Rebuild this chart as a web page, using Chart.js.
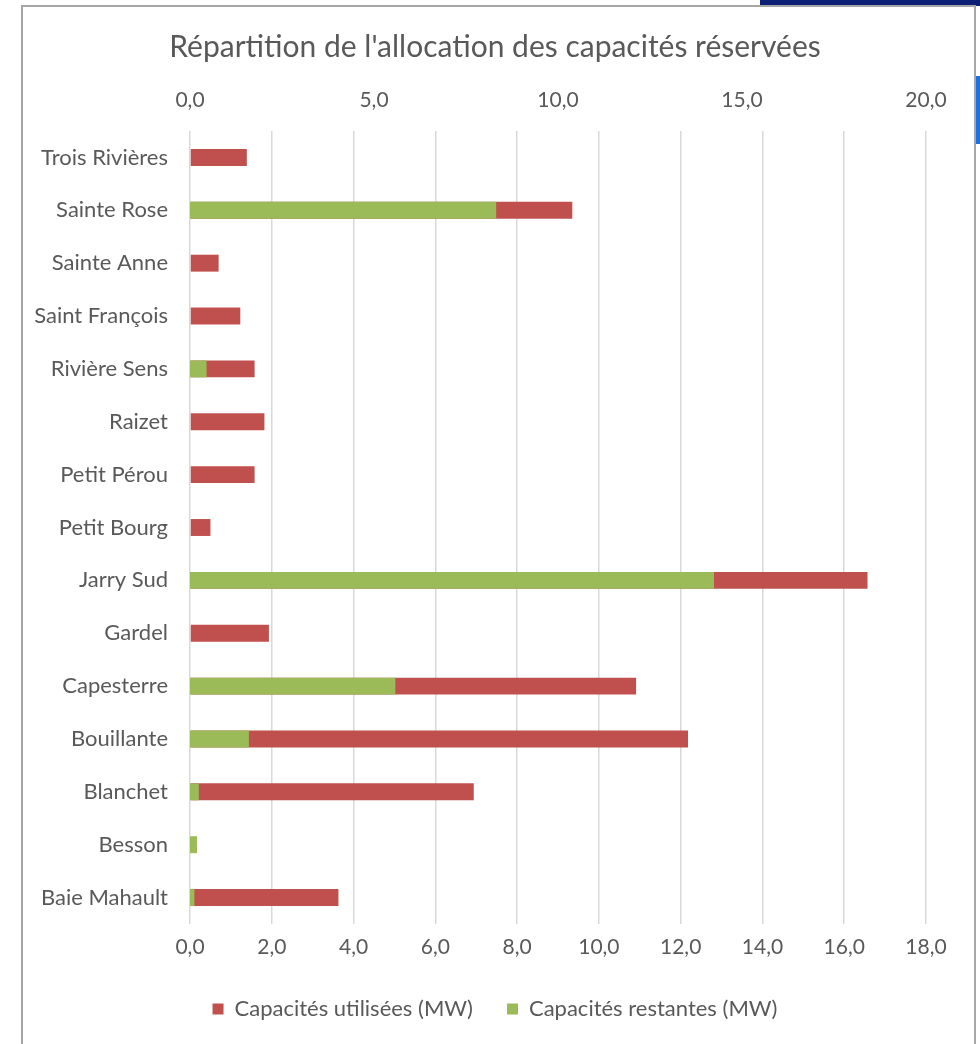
<!DOCTYPE html>
<html>
<head>
<meta charset="utf-8">
<script src="https://cdn.jsdelivr.net/npm/chart.js@4"></script>
<style>
  html, body { margin: 0; padding: 0; background: #fff; }
  body { width: 980px; height: 1044px; position: relative; overflow: hidden; }
  #bgTop { position: absolute; left: 760px; top: 0; width: 220px; height: 6px; background: #0b1f74; }
  #bgBlue { position: absolute; left: 974px; top: 76px; width: 6px; height: 68px; background: #1e6fe0; }
  #frame { position: absolute; left: 21px; top: 5px; width: 951px; height: 1100px; border: 2px solid #a6a6a6; background: #fff; }
  #wrap { position: absolute; left: 0; top: 0; width: 980px; height: 1044px; }
</style>
</head>
<body onload="handleOnLoad()">
<div id="bgTop"></div>
<div id="bgBlue"></div>
<div id="frame"></div>
<div id="wrap"><canvas id="myChart" width="980" height="1044"></canvas></div>
<script>
// postes, in Excel order (bottom to top)
const postes = ['Baie Mahault', 'Besson', 'Blanchet', 'Bouillante', 'Capesterre', 'Gardel',
  'Jarry Sud', 'Petit Bourg', 'Petit Pérou', 'Raizet', 'Rivière Sens', 'Saint François',
  'Sainte Anne', 'Sainte Rose', 'Trois Rivières']

// primary axis (bottom, 0-18)
const utilisees = [3.63, 0, 6.94, 12.18, 10.91, 1.93, 16.57, 0.50, 1.58, 1.82, 1.58, 1.23, 0.70, 9.35, 1.39]
// secondary axis (top, 0-20)
const restantes = [0.12, 0.19, 0.24, 1.60, 5.58, 0, 14.24, 0, 0, 0, 0.45, 0, 0, 8.32, 0]

const bottomTicks = { min: 0, max: 18, step: 2 }
const topTicks = { min: 0, max: 20, step: 5 }

const grey = '#595959'
const fmt = function (v) { return Number(v).toFixed(1).replace('.', ',') }

function handleOnLoad() {
  CreateChart()
}

function CreateChart() {
  const ctx = document.getElementById('myChart').getContext('2d')
  new Chart(ctx, {
    type: 'bar',
    data: {
      labels: postes,
      datasets: [{
        label: 'Capacités utilisées (MW)',
        data: utilisees,
        xAxisID: 'x',
        backgroundColor: '#C0504D',
        borderWidth: 0,
        order: 1
      }, {
        label: 'Capacités restantes (MW)',
        data: restantes,
        xAxisID: 'x2',
        backgroundColor: '#9BBB59',
        borderWidth: 0,
        order: 0
      }]
    },
    options: {
      indexAxis: 'y',
      responsive: false,
      animation: false,
      grouped: false,
      barPercentage: 0.32,
      categoryPercentage: 1,
      layout: {
        padding: { left: 20, right: 10, top: 10, bottom: 14 }
      },
      scales: {
        x: {
          position: 'bottom',
          min: bottomTicks.min,
          max: bottomTicks.max,
          afterFit: function (s) { s.height = 40 },
          ticks: {
            stepSize: bottomTicks.step,
            padding: 11,
            color: grey,
            font: { family: 'Lato', size: 21 },
            callback: fmt,
            maxRotation: 0
          },
          grid: { color: '#d9d9d9', lineWidth: 1.5, drawTicks: false },
          border: { display: false }
        },
        x2: {
          position: 'top',
          min: topTicks.min,
          max: topTicks.max,
          afterFit: function (s) { s.height = 61 },
          ticks: {
            stepSize: topTicks.step,
            padding: 18,
            color: grey,
            font: { family: 'Lato', size: 21 },
            callback: fmt,
            maxRotation: 0
          },
          grid: { display: false, drawTicks: false },
          border: { display: false }
        },
        y: {
          reverse: true,
          afterFit: function (s) { s.width = 170 },
          ticks: {
            padding: 22,
            color: grey,
            font: { family: 'Lato', size: 22 }
          },
          grid: { display: false, drawTicks: false },
          border: { display: false }
        },
        // empty spacer on the right, keeps title centred on the frame
        yRight: {
          axis: 'y',
          type: 'linear',
          position: 'right',
          afterFit: function (s) { s.width = 44 },
          ticks: { display: false },
          grid: { display: false, drawTicks: false },
          border: { display: false }
        }
      },
      plugins: {
        title: {
          display: true,
          text: "Répartition de l'allocation des capacités réservées",
          color: grey,
          font: { family: 'Lato', size: 30, weight: 'normal' },
          padding: { top: 19, bottom: 5 }
        },
        legend: {
          position: 'bottom',
          labels: {
            boxWidth: 11,
            boxHeight: 11,
            padding: 34,
            color: grey,
            font: { family: 'Lato', size: 22 },
            sort: function (a, b) { return a.datasetIndex - b.datasetIndex }
          }
        },
        tooltip: { enabled: false }
      }
    }
  })
}
</script>
</body>
</html>
